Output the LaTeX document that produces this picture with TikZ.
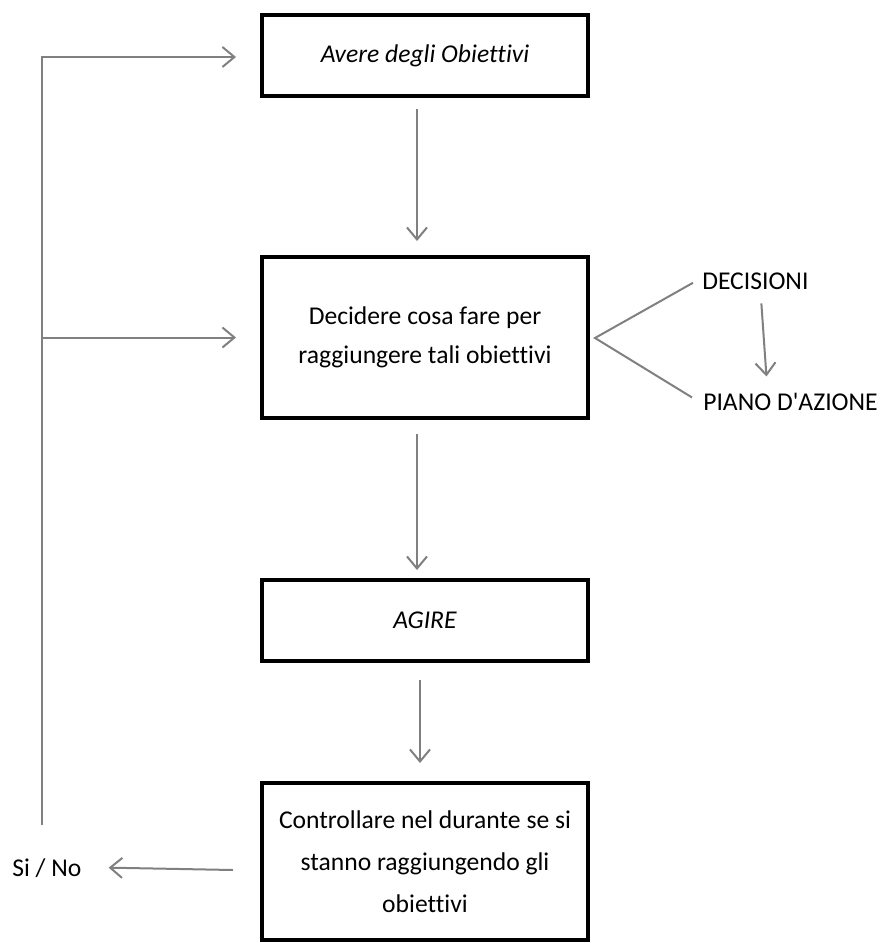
\documentclass[tikz,border=0pt]{standalone}
\usepackage{fontspec}
\setmainfont{Carlito}[Ligatures={NoCommon,TeXOff}]
\usetikzlibrary{arrows.meta,calc}

\tikzset{
  stepbox/.style={draw=black, line width=3pt, fill=white, align=center,
    minimum width=244.5pt, inner sep=0pt},
  flow/.style={draw=black!50, line width=1.5pt,
    -{Straight Barb[length=9pt,width=15pt,line width=1.5pt]}},
  plain/.style={draw=black!50, line width=1.5pt},
  lbl/.style={inner sep=0pt, font=\fontsize{19.2}{22}\selectfont},
}

\begin{document}
\begin{tikzpicture}[x=0.75pt, y=-0.75pt]
  % page frame (pixel grid, origin top left)
  \useasboundingbox (0,0) rectangle (882,943);

  % main steps
  \node[stepbox, minimum height=60.75pt, font=\fontsize{19.2}{22}\selectfont\itshape]
    (b1) at (425,55.5) {Avere degli Obiettivi};
  \node[stepbox, minimum height=120.75pt, font=\fontsize{19.2}{29}\selectfont]
    (b2) at (425,337.5) {Decidere cosa fare per\\raggiungere tali obiettivi};
  \node[stepbox, minimum height=60.75pt, font=\fontsize{19.2}{22}\selectfont\itshape]
    (b3) at (425,620.5) {AGIRE};
  \node[stepbox, minimum height=117.75pt, font=\fontsize{19.2}{31.5}\selectfont]
    (b4) at (425,861.5) {Controllare nel durante se si\\stanno raggiungendo gli\\obiettivi};

  % side labels
  \node[lbl, anchor=base west] (dec) at (702,289) {DECISIONI};
  \node[lbl, anchor=base west] (piano) at (703,410) {PIANO D'AZIONE};
  \node[lbl, anchor=base west] (sino) at (12,876) {Si / No};

  % downward flow between the steps
  \draw[flow] ($(b1.south)+(-8,11)$) -- ($(b2.north)+(-8,-14)$);
  \draw[flow] ($(b2.south)+(-8,14)$) -- ($(b3.north)+(-8,-8)$);
  \draw[flow] ($(b3.south)+(-5,17)$) -- ($(b4.north)+(-5,-18)$);

  % decisions branch
  \coordinate (apex) at ($(b2.east)+(5,0.5)$);
  \draw[plain] ($(dec.west)+(-9,2)$) -- (apex) -- ($(piano.west)+(-11,-4)$);
  \draw[flow] ($(dec.south)+(6,14)$) -- ($(piano.north)+(-24,-16)$);

  % check result and feedback loop
  \draw[flow] ($(b4.west)+(-27,8.5)$) -- ($(sino.east)+(27,0)$);
  \coordinate (loopend) at (42,825);
  \draw[flow] (loopend) |- ($(b1.west)+(-24,1.5)$);
  \coordinate (loopmid) at (loopend |- b2.west);
  \draw[flow] (loopmid) -- ($(b2.west)+(-24,0)$);
\end{tikzpicture}
\end{document}
